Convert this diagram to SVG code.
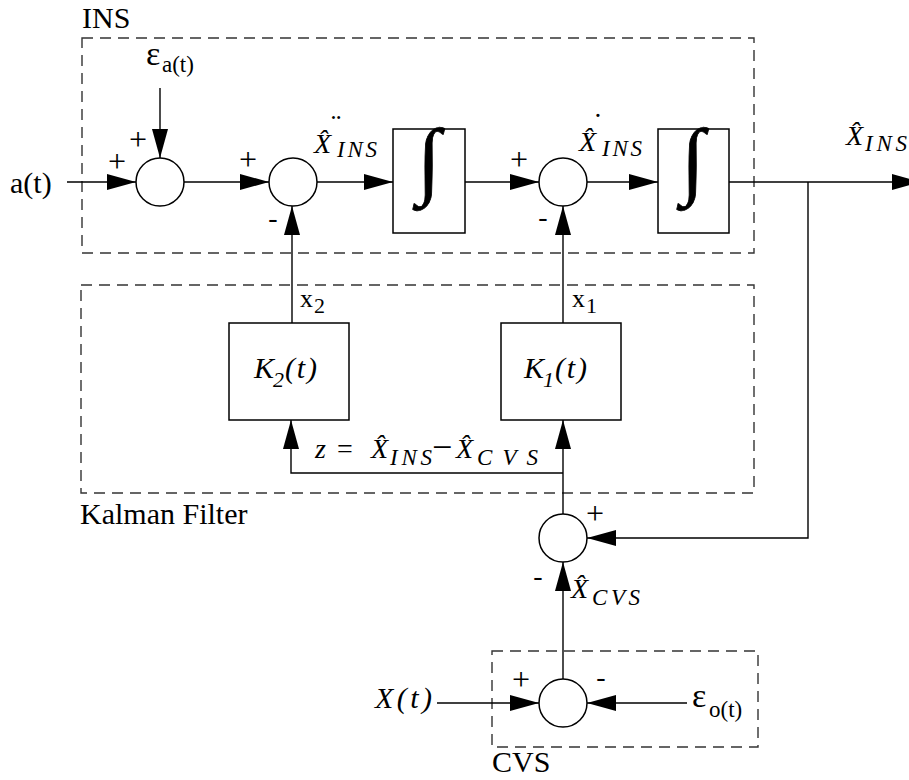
<svg xmlns="http://www.w3.org/2000/svg" width="909" height="780" viewBox="0 0 909 780">
<defs>
<marker id="ah" viewBox="0 0 29 16" refX="29" refY="8" markerWidth="29" markerHeight="16" markerUnits="userSpaceOnUse" orient="auto"><path d="M0,0 L29,8 L0,16 Z" fill="#000"/></marker>
<style>
.ar{stroke:#000;stroke-width:1.4;fill:none;marker-end:url(#ah)}
.box{fill:#fff;stroke:#000;stroke-width:1.5}
.sum{fill:#fff;stroke:#000;stroke-width:1.5}
.dash{fill:none;stroke:#333;stroke-width:1.4;stroke-dasharray:11 7}
text{font-family:"Liberation Serif","Times New Roman",serif;fill:#000}
.m{font-style:italic}
.sg{font-size:32px;text-anchor:middle}
.mn{font-size:28px;text-anchor:middle}
.dt{font-size:30px;text-anchor:middle;font-style:italic}
.int{font-size:85px;text-anchor:middle;stroke:#000;stroke-width:0.8}
</style>
</defs>
<rect width="909" height="780" fill="#fff"/>

<g id="boundaries">
<rect class="dash" x="82" y="38" width="672" height="215"/>
<text x="82" y="28" font-size="30">INS</text>
<rect class="dash" x="81" y="285" width="673" height="208"/>
<text x="80" y="524" font-size="30">Kalman Filter</text>
<rect class="dash" x="492" y="651" width="266" height="96"/>
<text x="492" y="772" font-size="30">CVS</text>
</g>

<g id="connectors">
<line class="ar" x1="67" y1="182" x2="136" y2="182"/>
<line class="ar" x1="160" y1="88" x2="160" y2="158"/>
<line class="ar" x1="184" y1="182" x2="269" y2="182"/>
<line class="ar" x1="317" y1="182" x2="393" y2="182"/>
<line class="ar" x1="465" y1="182" x2="539" y2="182"/>
<line class="ar" x1="587" y1="182" x2="658" y2="182"/>
<line class="ar" x1="729" y1="182" x2="921" y2="182"/>
<polyline class="ar" points="808,182 808,538 587,538"/>
<line class="ar" x1="292" y1="323" x2="292" y2="206"/>
<line class="ar" x1="563" y1="323" x2="563" y2="206"/>
<line class="ar" x1="563" y1="514" x2="563" y2="420"/>
<polyline class="ar" points="563,473 291,473 291,420"/>
<line class="ar" x1="563" y1="679" x2="563" y2="562"/>
<line class="ar" x1="437" y1="703" x2="539" y2="703"/>
<line class="ar" x1="687" y1="703" x2="587" y2="703"/>
</g>

<g id="labels">
<text x="10" y="193" font-size="30">a(t)</text>
<text x="146" y="65" font-size="34">ε</text>
<text x="162" y="72" font-size="23">a(t)</text>
<text class="sg" x="117" y="172">+</text>
<text class="sg" x="138" y="150">+</text>
<text class="sg" x="248" y="170">+</text>
<text class="mn" x="273" y="227">-</text>
<text class="sg" x="519" y="170">+</text>
<text class="mn" x="543" y="226">-</text>
<text class="sg" x="595" y="524">+</text>
<text class="mn" x="538" y="585">-</text>
<text class="sg" x="521" y="690">+</text>
<text class="mn" x="601" y="686">-</text>

<text class="m" x="314" y="153" font-size="28">X&#x302;</text>
<text class="dt" x="334" y="135">¨</text>
<text class="m" x="337" y="157" font-size="23" textLength="40">INS</text>

<text class="m" x="579" y="151" font-size="28">X&#x302;</text>
<text class="dt" x="596" y="134">˙</text>
<text class="m" x="602" y="156" font-size="23" textLength="40">INS</text>

<text class="m" x="846" y="145" font-size="28">X&#x302;</text>
<text class="m" x="865" y="151" font-size="23" textLength="42">INS</text>

<text x="300" y="307" font-size="26">x</text>
<text x="314" y="313" font-size="22">2</text>
<text x="572" y="307" font-size="26">x</text>
<text x="586" y="313" font-size="22">1</text>

<text class="m" x="315" y="458" font-size="28">z</text>
<text x="337" y="458" font-size="28">=</text>
<text class="m" x="371" y="458" font-size="28">X&#x302;</text>
<text class="m" x="390" y="465" font-size="23" textLength="42">INS</text>
<text x="432" y="459" font-size="36">−</text>
<text class="m" x="456" y="458" font-size="28">X&#x302;</text>
<text class="m" x="477" y="465" font-size="23" textLength="61">CVS</text>

<text class="m" x="571" y="598" font-size="28">X&#x302;</text>
<text class="m" x="592" y="605" font-size="23" textLength="48">CVS</text>

<text class="m" x="375" y="708" font-size="30" textLength="57">X(t)</text>
<text x="692" y="707" font-size="34">ε</text>
<text x="709" y="717" font-size="23">o(t)</text>
</g>

<g id="sum1"><circle class="sum" cx="160" cy="182" r="24"/></g>
<g id="sum2"><circle class="sum" cx="293" cy="182" r="24"/></g>
<g id="integrator1"><rect class="box" x="393" y="129" width="72" height="104"/><text class="int" x="429" y="188">∫</text></g>
<g id="sum3"><circle class="sum" cx="563" cy="182" r="24"/></g>
<g id="integrator2"><rect class="box" x="658" y="129" width="71" height="104"/><text class="int" x="693" y="188">∫</text></g>
<g id="k2"><rect class="box" x="229" y="323" width="120" height="97"/>
<text class="m" x="254" y="378" font-size="30">K</text><text class="m" x="273" y="387" font-size="22">2</text><text class="m" x="285" y="378" font-size="30" textLength="32">(t)</text></g>
<g id="k1"><rect class="box" x="501" y="323" width="120" height="97"/>
<text class="m" x="524" y="378" font-size="30">K</text><text class="m" x="543" y="387" font-size="22">1</text><text class="m" x="555" y="378" font-size="30" textLength="32">(t)</text></g>
<g id="sum4"><circle class="sum" cx="563" cy="538" r="24"/></g>
<g id="sum5"><circle class="sum" cx="563" cy="703" r="24"/></g>
</svg>
